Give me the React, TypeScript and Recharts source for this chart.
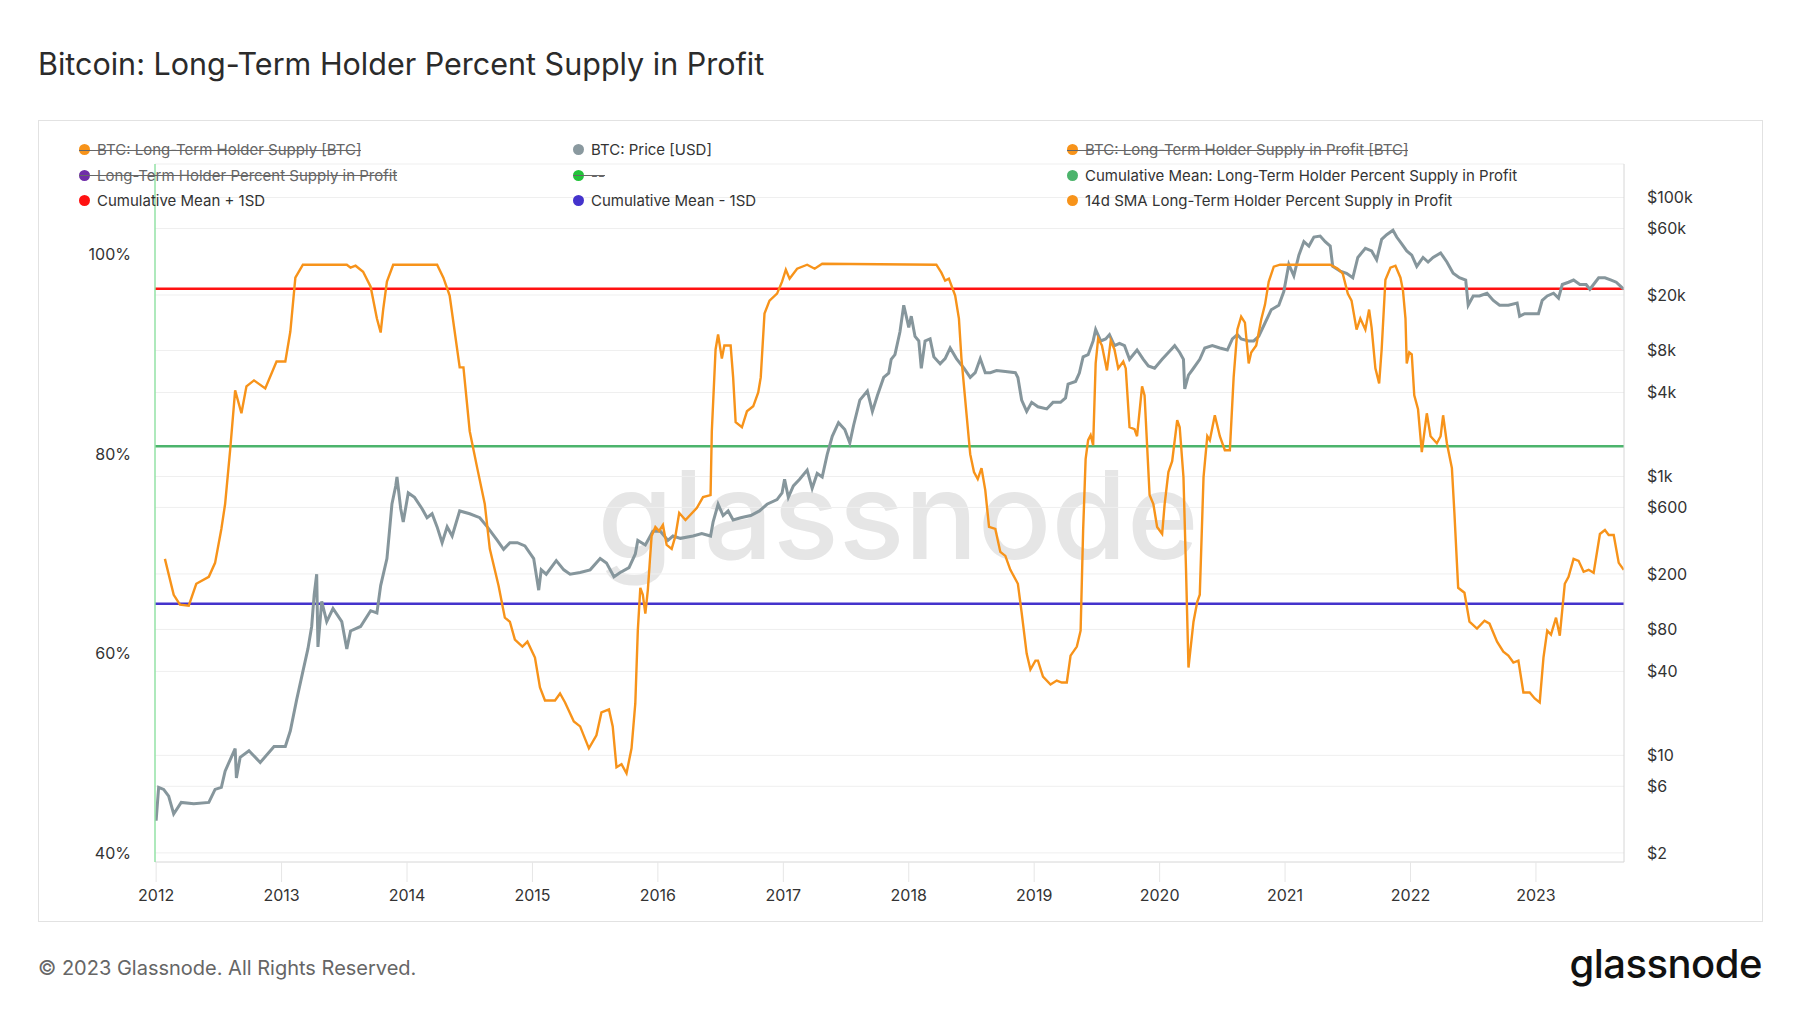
import React from "react"
import { LineChart, Line, XAxis, YAxis, CartesianGrid, ReferenceLine } from "recharts"

const FONT = "Inter, 'Noto Sans', sans-serif"

const YEAR_TICKS = [2012, 2013, 2014, 2015, 2016, 2017, 2018, 2019, 2020, 2021, 2022, 2023]
const PCT_TICKS = [40, 60, 80, 100]
const USD_TICKS = [2, 6, 10, 40, 80, 200, 600, 1000, 4000, 8000, 20000, 60000, 100000]

// cumulative bands (percent)
const MEAN_PLUS_1SD = 96.6
const CUM_MEAN = 80.8
const MEAN_MINUS_1SD = 65.0

// 14d SMA LTH percent supply in profit
const lthYears = [
  2012.07, 2012.14, 2012.19, 2012.26, 2012.32, 2012.42, 2012.47, 2012.52, 2012.55, 2012.59,
  2012.63, 2012.68, 2012.72, 2012.78, 2012.87, 2012.96, 2013.03, 2013.07, 2013.11, 2013.17,
  2013.52, 2013.55, 2013.59, 2013.65, 2013.71, 2013.76, 2013.79, 2013.81, 2013.84, 2013.89,
  2014.24, 2014.29, 2014.34, 2014.38, 2014.42, 2014.45, 2014.5, 2014.56, 2014.62, 2014.66,
  2014.73, 2014.78, 2014.82, 2014.86, 2014.92, 2014.96, 2015.02, 2015.06, 2015.1, 2015.18,
  2015.22, 2015.26, 2015.33, 2015.38, 2015.45, 2015.51, 2015.55, 2015.61, 2015.64, 2015.67,
  2015.71, 2015.75, 2015.79, 2015.82, 2015.84, 2015.86, 2015.88, 2015.9, 2015.92, 2015.95,
  2015.98, 2016.01, 2016.04, 2016.07, 2016.11, 2016.14, 2016.17, 2016.22, 2016.31, 2016.36,
  2016.42, 2016.43, 2016.46, 2016.48, 2016.51, 2016.53, 2016.58, 2016.6, 2016.62, 2016.67,
  2016.71, 2016.76, 2016.8, 2016.82, 2016.85, 2016.89, 2016.95, 2016.99, 2017.02, 2017.05,
  2017.11, 2017.19, 2017.25, 2017.31, 2018.22, 2018.26, 2018.29, 2018.32, 2018.37, 2018.4,
  2018.42, 2018.46, 2018.49, 2018.52, 2018.55, 2018.58, 2018.61, 2018.64, 2018.69, 2018.73,
  2018.77, 2018.81, 2018.87, 2018.9, 2018.94, 2018.97, 2019.01, 2019.03, 2019.07, 2019.13,
  2019.18, 2019.22, 2019.26, 2019.29, 2019.34, 2019.37, 2019.39, 2019.41, 2019.43, 2019.45,
  2019.47, 2019.49, 2019.51, 2019.54, 2019.58, 2019.61, 2019.64, 2019.67, 2019.71, 2019.73,
  2019.76, 2019.8, 2019.82, 2019.86, 2019.88, 2019.92, 2019.95, 2019.98, 2020.02, 2020.04,
  2020.07, 2020.1, 2020.14, 2020.16, 2020.19, 2020.21, 2020.23, 2020.27, 2020.3, 2020.32,
  2020.35, 2020.38, 2020.4, 2020.44, 2020.48, 2020.52, 2020.56, 2020.59, 2020.62, 2020.65,
  2020.68, 2020.71, 2020.73, 2020.77, 2020.81, 2020.84, 2020.87, 2020.91, 2020.96, 2021.36,
  2021.42, 2021.46, 2021.5, 2021.53, 2021.57, 2021.6, 2021.64, 2021.67, 2021.69, 2021.72,
  2021.75, 2021.77, 2021.8, 2021.84, 2021.88, 2021.92, 2021.94, 2021.96, 2021.97, 2021.99,
  2022.01, 2022.03, 2022.06, 2022.09, 2022.13, 2022.16, 2022.21, 2022.24, 2022.26, 2022.29,
  2022.33, 2022.35, 2022.38, 2022.43, 2022.47, 2022.53, 2022.59, 2022.63, 2022.69, 2022.74,
  2022.78, 2022.82, 2022.86, 2022.9, 2022.95, 2022.99, 2023.03, 2023.06, 2023.09, 2023.12,
  2023.16, 2023.19, 2023.23, 2023.26, 2023.3, 2023.34, 2023.38, 2023.42, 2023.46, 2023.51,
  2023.55, 2023.58, 2023.62, 2023.66, 2023.7,
]
const lthPct = [
  69.5, 65.9, 64.9, 64.8, 67.0, 67.7, 69.1, 72.5, 75.0, 80.4,
  86.4, 84.1, 86.8, 87.4, 86.6, 89.3, 89.3, 92.3, 97.7, 99.0,
  99.0, 98.7, 98.9, 98.3, 96.8, 93.6, 92.2, 94.5, 97.3, 99.0,
  99.0, 97.7, 95.9, 92.3, 88.7, 88.7, 82.3, 78.6, 75.0, 70.5,
  66.8, 63.6, 63.2, 61.4, 60.7, 61.2, 59.6, 56.6, 55.3, 55.3,
  56.0, 55.1, 53.2, 52.7, 50.5, 51.8, 54.1, 54.4, 52.7, 48.6,
  48.9, 48.0, 50.5, 55.0, 62.3, 66.6, 65.9, 64.0, 66.4, 71.8,
  72.7, 72.3, 72.9, 70.9, 70.5, 71.8, 74.1, 73.4, 74.6, 75.7,
  75.9, 82.3, 90.5, 92.0, 89.6, 90.9, 90.9, 87.7, 83.2, 82.7,
  84.3, 84.8, 86.2, 87.7, 94.1, 95.4, 96.1, 97.3, 98.5, 97.6,
  98.6, 99.0, 98.6, 99.1, 99.0, 98.2, 97.4, 97.6, 95.9, 93.6,
  89.6, 84.1, 80.0, 78.2, 77.5, 78.6, 76.4, 72.7, 72.5, 70.2,
  69.8, 68.4, 67.0, 64.1, 60.0, 58.4, 59.3, 59.3, 57.7, 56.9,
  57.3, 57.1, 57.1, 59.8, 60.7, 62.3, 72.3, 79.5, 81.4, 81.9,
  80.9, 89.1, 91.6, 90.9, 88.4, 91.4, 90.5, 88.6, 89.3, 88.6,
  82.7, 82.5, 81.8, 86.8, 85.9, 75.9, 75.0, 72.7, 72.0, 75.0,
  78.2, 79.3, 83.4, 82.7, 77.7, 68.6, 58.6, 63.2, 65.2, 65.9,
  77.7, 81.8, 81.4, 83.9, 81.8, 80.4, 80.4, 87.7, 92.5, 93.8,
  93.2, 89.1, 90.2, 90.9, 93.5, 95.0, 97.3, 98.8, 99.0, 99.0,
  98.6, 98.1, 96.1, 95.4, 92.5, 93.6, 92.5, 94.5, 92.7, 88.6,
  87.1, 90.5, 97.5, 98.7, 98.9, 97.7, 96.4, 93.6, 89.1, 90.2,
  90.0, 85.9, 84.5, 80.2, 84.1, 81.8, 81.1, 81.8, 83.9, 81.1,
  78.6, 74.1, 66.6, 66.1, 63.2, 62.5, 63.3, 63.0, 61.2, 60.2,
  59.8, 59.1, 59.3, 56.1, 56.1, 55.5, 55.1, 59.6, 62.3, 61.9,
  63.6, 61.8, 67.0, 67.7, 69.5, 69.3, 68.2, 68.4, 68.1, 72.0,
  72.4, 71.9, 71.9, 69.1, 68.4,
]

// BTC price, USD
const priceYears = [
  2012.0, 2012.02, 2012.06, 2012.1, 2012.14, 2012.2, 2012.3, 2012.42, 2012.47, 2012.52,
  2012.55, 2012.59, 2012.63, 2012.64, 2012.67, 2012.74, 2012.83, 2012.94, 2013.03, 2013.07,
  2013.12, 2013.17, 2013.21, 2013.24, 2013.26, 2013.28, 2013.29, 2013.32, 2013.36, 2013.41,
  2013.48, 2013.52, 2013.55, 2013.63, 2013.71, 2013.76, 2013.79, 2013.84, 2013.88, 2013.91,
  2013.92, 2013.95, 2013.97, 2014.01, 2014.06, 2014.12, 2014.16, 2014.2, 2014.24, 2014.28,
  2014.32, 2014.36, 2014.42, 2014.5, 2014.58, 2014.64, 2014.72, 2014.77, 2014.82, 2014.88,
  2014.94, 2015.01, 2015.05, 2015.07, 2015.11, 2015.19, 2015.25, 2015.3, 2015.38, 2015.46,
  2015.54, 2015.59, 2015.65, 2015.7, 2015.77, 2015.82, 2015.84, 2015.9, 2015.96, 2016.02,
  2016.08, 2016.12, 2016.18, 2016.28, 2016.35, 2016.42, 2016.44, 2016.48, 2016.52, 2016.56,
  2016.6, 2016.66, 2016.74, 2016.81, 2016.87, 2016.95, 2016.99, 2017.01, 2017.04, 2017.08,
  2017.13, 2017.19, 2017.23, 2017.27, 2017.31, 2017.35, 2017.39, 2017.44, 2017.49, 2017.53,
  2017.56, 2017.61, 2017.67, 2017.71, 2017.75, 2017.8, 2017.84, 2017.86, 2017.89, 2017.93,
  2017.96, 2017.98, 2018.0, 2018.02, 2018.05, 2018.08, 2018.1, 2018.13, 2018.17, 2018.2,
  2018.25, 2018.29, 2018.33, 2018.38, 2018.44, 2018.49, 2018.53, 2018.57, 2018.61, 2018.65,
  2018.7, 2018.77, 2018.85, 2018.87, 2018.9, 2018.94, 2018.98, 2019.03, 2019.1, 2019.15,
  2019.21, 2019.25, 2019.27, 2019.33, 2019.36, 2019.39, 2019.43, 2019.47, 2019.49, 2019.53,
  2019.57, 2019.6, 2019.64, 2019.68, 2019.72, 2019.76, 2019.82, 2019.87, 2019.91, 2019.96,
  2020.02, 2020.07, 2020.12, 2020.16, 2020.19, 2020.2, 2020.23, 2020.27, 2020.32, 2020.36,
  2020.42, 2020.48, 2020.54, 2020.58, 2020.62, 2020.65, 2020.71, 2020.75, 2020.79, 2020.84,
  2020.89, 2020.95, 2020.99, 2021.03, 2021.07, 2021.11, 2021.15, 2021.19, 2021.23, 2021.28,
  2021.32, 2021.36, 2021.38, 2021.44, 2021.49, 2021.54, 2021.58, 2021.64, 2021.69, 2021.73,
  2021.77, 2021.81, 2021.86, 2021.89, 2021.93, 2021.97, 2022.01, 2022.05, 2022.1, 2022.14,
  2022.18, 2022.24, 2022.29, 2022.34, 2022.39, 2022.44, 2022.46, 2022.5, 2022.55, 2022.61,
  2022.66, 2022.71, 2022.78, 2022.85, 2022.87, 2022.91, 2022.97, 2023.02, 2023.05, 2023.09,
  2023.14, 2023.18, 2023.21, 2023.26, 2023.3, 2023.35, 2023.4, 2023.43, 2023.5, 2023.55,
  2023.6, 2023.64, 2023.68, 2023.7,
]
const priceUsd = [
  3.4, 5.9, 5.7, 5.1, 3.8, 4.6, 4.5, 4.6, 5.7, 5.9,
  7.7, 9.3, 11.2, 6.9, 9.7, 10.8, 8.9, 11.6, 11.6, 15,
  25, 40, 58, 84, 142, 199, 60, 127, 91, 113,
  91, 58, 78, 84, 109, 105, 165, 258, 635, 855,
  992, 587, 472, 762, 708, 587, 506, 540, 435, 335,
  435, 374, 566, 540, 506, 435, 348, 300, 335, 335,
  318, 258, 153, 214, 199, 249, 214, 199, 205, 214,
  258, 240, 191, 205, 222, 278, 348, 323, 405, 405,
  348, 374, 360, 374, 389, 374, 470, 632, 525, 566,
  487, 506, 525, 566, 632, 682, 762, 955, 708, 855,
  955, 1110, 822, 1050, 990, 1440, 1940, 2430, 2170, 1740,
  2320, 3530, 4100, 2930, 3810, 5130, 5500, 6920, 7470, 10900,
  16900, 14100, 11700, 14100, 10100, 9370, 5970, 9370, 9690, 7200,
  6420, 7000, 8340, 7000, 5970, 5130, 5550, 7000, 5550, 5550,
  5740, 5650, 5550, 5130, 3530, 2930, 3400, 3160, 3050, 3400,
  3400, 3660, 4590, 4800, 5520, 7200, 7470, 9370, 11300, 9370,
  9690, 10400, 8670, 9000, 8670, 6920, 8070, 6920, 6200, 5970,
  6920, 7750, 8670, 7750, 6920, 4250, 5330, 5970, 6920, 8340,
  8670, 8340, 8070, 9690, 10400, 9690, 9370, 9370, 10100, 12600,
  15700, 16900, 21200, 33200, 27500, 38600, 48300, 44900, 52100, 53000,
  48300, 44900, 32100, 29700, 28600, 26600, 37200, 43200, 41400, 35800,
  50100, 54100, 58300, 52100, 46600, 41400, 38600, 32100, 37200, 34500,
  37200, 40100, 34500, 28700, 26600, 25600, 16900, 19700, 19700, 20600,
  18300, 16900, 16900, 17500, 14100, 14700, 14700, 14700, 18300, 19700,
  20600, 19000, 23800, 24700, 25600, 23800, 23800, 22000, 26600, 26600,
  25600, 24700, 22900, 22000,
]

const LEGEND = [
  { label: "BTC: Long-Term Holder Supply [BTC]", color: "#f7931a", off: true },
  { label: "BTC: Price [USD]", color: "#8a999f", off: false },
  { label: "BTC: Long-Term Holder Supply in Profit [BTC]", color: "#f7931a", off: true },
  { label: "Long-Term Holder Percent Supply in Profit", color: "#6f2da8", off: true },
  { label: "--", color: "#22c33a", off: true },
  { label: "Cumulative Mean: Long-Term Holder Percent Supply in Profit", color: "#4cb46c", off: false },
  { label: "Cumulative Mean + 1SD", color: "#ff1111", off: false },
  { label: "Cumulative Mean - 1SD", color: "#4433cc", off: false },
  { label: "14d SMA Long-Term Holder Percent Supply in Profit", color: "#f7931a", off: false },
]

const lthData = lthYears.map((t, i) => ({ t, v: lthPct[i] }))
const priceData = priceYears.map((t, i) => ({ t, v: priceUsd[i] }))

const fmtUsd = (v: number) => (v >= 1000 ? `$${v / 1000}k` : `$${v}`)
const tickStyle = { fill: "#333", fontSize: 16, fontFamily: FONT }

function Legend() {
  return (
    <div
      style={{
        position: "absolute",
        left: 79,
        top: 137,
        width: 1500,
        display: "grid",
        gridTemplateColumns: "494px 494px 500px",
        gridAutoRows: "25.5px",
        fontFamily: FONT,
        fontSize: 15,
      }}
    >
      {LEGEND.map((item) => (
        <div key={item.label} style={{ display: "flex", alignItems: "center" }}>
          <div style={{ position: "relative", display: "flex", alignItems: "center" }}>
            <span
              style={{
                width: 11,
                height: 11,
                borderRadius: "50%",
                background: item.color,
                marginRight: 7,
                flex: "none",
              }}
            />
            <span style={{ color: item.off ? "#666" : "#333", whiteSpace: "nowrap" }}>
              {item.label}
            </span>
            {item.off && (
              <span
                style={{
                  position: "absolute",
                  left: 0,
                  right: 0,
                  top: "50%",
                  height: 1,
                  background: "#666",
                }}
              />
            )}
          </div>
        </div>
      ))}
    </div>
  )
}

export default function App() {
  return (
    <div
      style={{
        position: "absolute",
        left: 0,
        top: 0,
        width: 1800,
        height: 1013,
        background: "#fff",
        fontFamily: FONT,
        overflow: "hidden",
      }}
    >
      <div
        style={{
          position: "absolute",
          left: 38,
          top: 45,
          fontSize: 30.5,
          lineHeight: "38px",
          color: "#2b2b2b",
        }}
      >
        Bitcoin: Long-Term Holder Percent Supply in Profit
      </div>
      <div
        style={{
          position: "absolute",
          left: 38,
          top: 120,
          width: 1723,
          height: 800,
          border: "1px solid #e2e2e2",
        }}
      />
      <div
        style={{
          position: "absolute",
          left: 898,
          top: 549,
          transform: "translate(-50%, -78%)",
          fontSize: 122,
          fontWeight: 500,
          color: "#e6e6e6",
          lineHeight: 1,
          whiteSpace: "nowrap",
        }}
      >
        glassnode
      </div>
      <div style={{ position: "absolute", left: 0, top: 0 }}>
        <LineChart width={1800} height={1013} margin={{ top: 164, right: 0, bottom: 101, left: 0 }}>
          <CartesianGrid vertical={false} yAxisId="usd" stroke="#efefef" />
          <XAxis
            dataKey="t"
            type="number"
            domain={[2011.991, 2023.702]}
            allowDataOverflow
            ticks={YEAR_TICKS}
            interval={0}
            height={50}
            tickSize={20}
            tickMargin={8}
            tickLine={{ stroke: "#e6e6e6" }}
            axisLine={{ stroke: "#dedede" }}
            tick={tickStyle}
          />
          <XAxis
            xAxisId="top"
            orientation="top"
            type="number"
            domain={[2011.991, 2023.702]}
            height={0}
            tick={false}
            tickLine={false}
            axisLine={{ stroke: "#dedede" }}
          />
          <YAxis
            yAxisId="pct"
            type="number"
            domain={[39.1, 109.1]}
            allowDataOverflow
            ticks={PCT_TICKS}
            width={155}
            tickLine={false}
            tickSize={6}
            tickMargin={18}
            tickFormatter={(v: number) => `${v}%`}
            axisLine={{ stroke: "#93e2a6", strokeWidth: 1.5 }}
            tick={tickStyle}
          />
          <YAxis
            yAxisId="usd"
            orientation="right"
            type="number"
            scale="log"
            domain={[1.72, 174000]}
            allowDataOverflow
            ticks={USD_TICKS}
            interval={0}
            width={176}
            tickLine={false}
            tickSize={6}
            tickMargin={17}
            tickFormatter={fmtUsd}
            axisLine={{ stroke: "#d6d6d6" }}
            tick={{ ...tickStyle, textAnchor: "start" }}
          />
          <ReferenceLine yAxisId="pct" y={MEAN_PLUS_1SD} stroke="#ff1111" strokeWidth={2.5} />
          <ReferenceLine yAxisId="pct" y={CUM_MEAN} stroke="#4cb46c" strokeWidth={2.5} />
          <ReferenceLine yAxisId="pct" y={MEAN_MINUS_1SD} stroke="#4433cc" strokeWidth={2.5} />
          <Line
            yAxisId="usd"
            data={priceData}
            dataKey="v"
            type="linear"
            stroke="#86969c"
            strokeWidth={3}
            dot={false}
            isAnimationActive={false}
          />
          <Line
            yAxisId="pct"
            data={lthData}
            dataKey="v"
            type="linear"
            stroke="#f7931a"
            strokeWidth={2.4}
            dot={false}
            isAnimationActive={false}
          />
        </LineChart>
      </div>
      <Legend />
      <div
        style={{
          position: "absolute",
          left: 38,
          top: 955,
          fontSize: 20,
          lineHeight: "26px",
          color: "#666",
        }}
      >
        © 2023 Glassnode. All Rights Reserved.
      </div>
      <div
        style={{
          position: "absolute",
          right: 38,
          top: 940,
          fontSize: 40,
          fontWeight: 500,
          lineHeight: "48px",
          letterSpacing: -0.5,
          color: "#111",
        }}
      >
        glassnode
      </div>
    </div>
  )
}
